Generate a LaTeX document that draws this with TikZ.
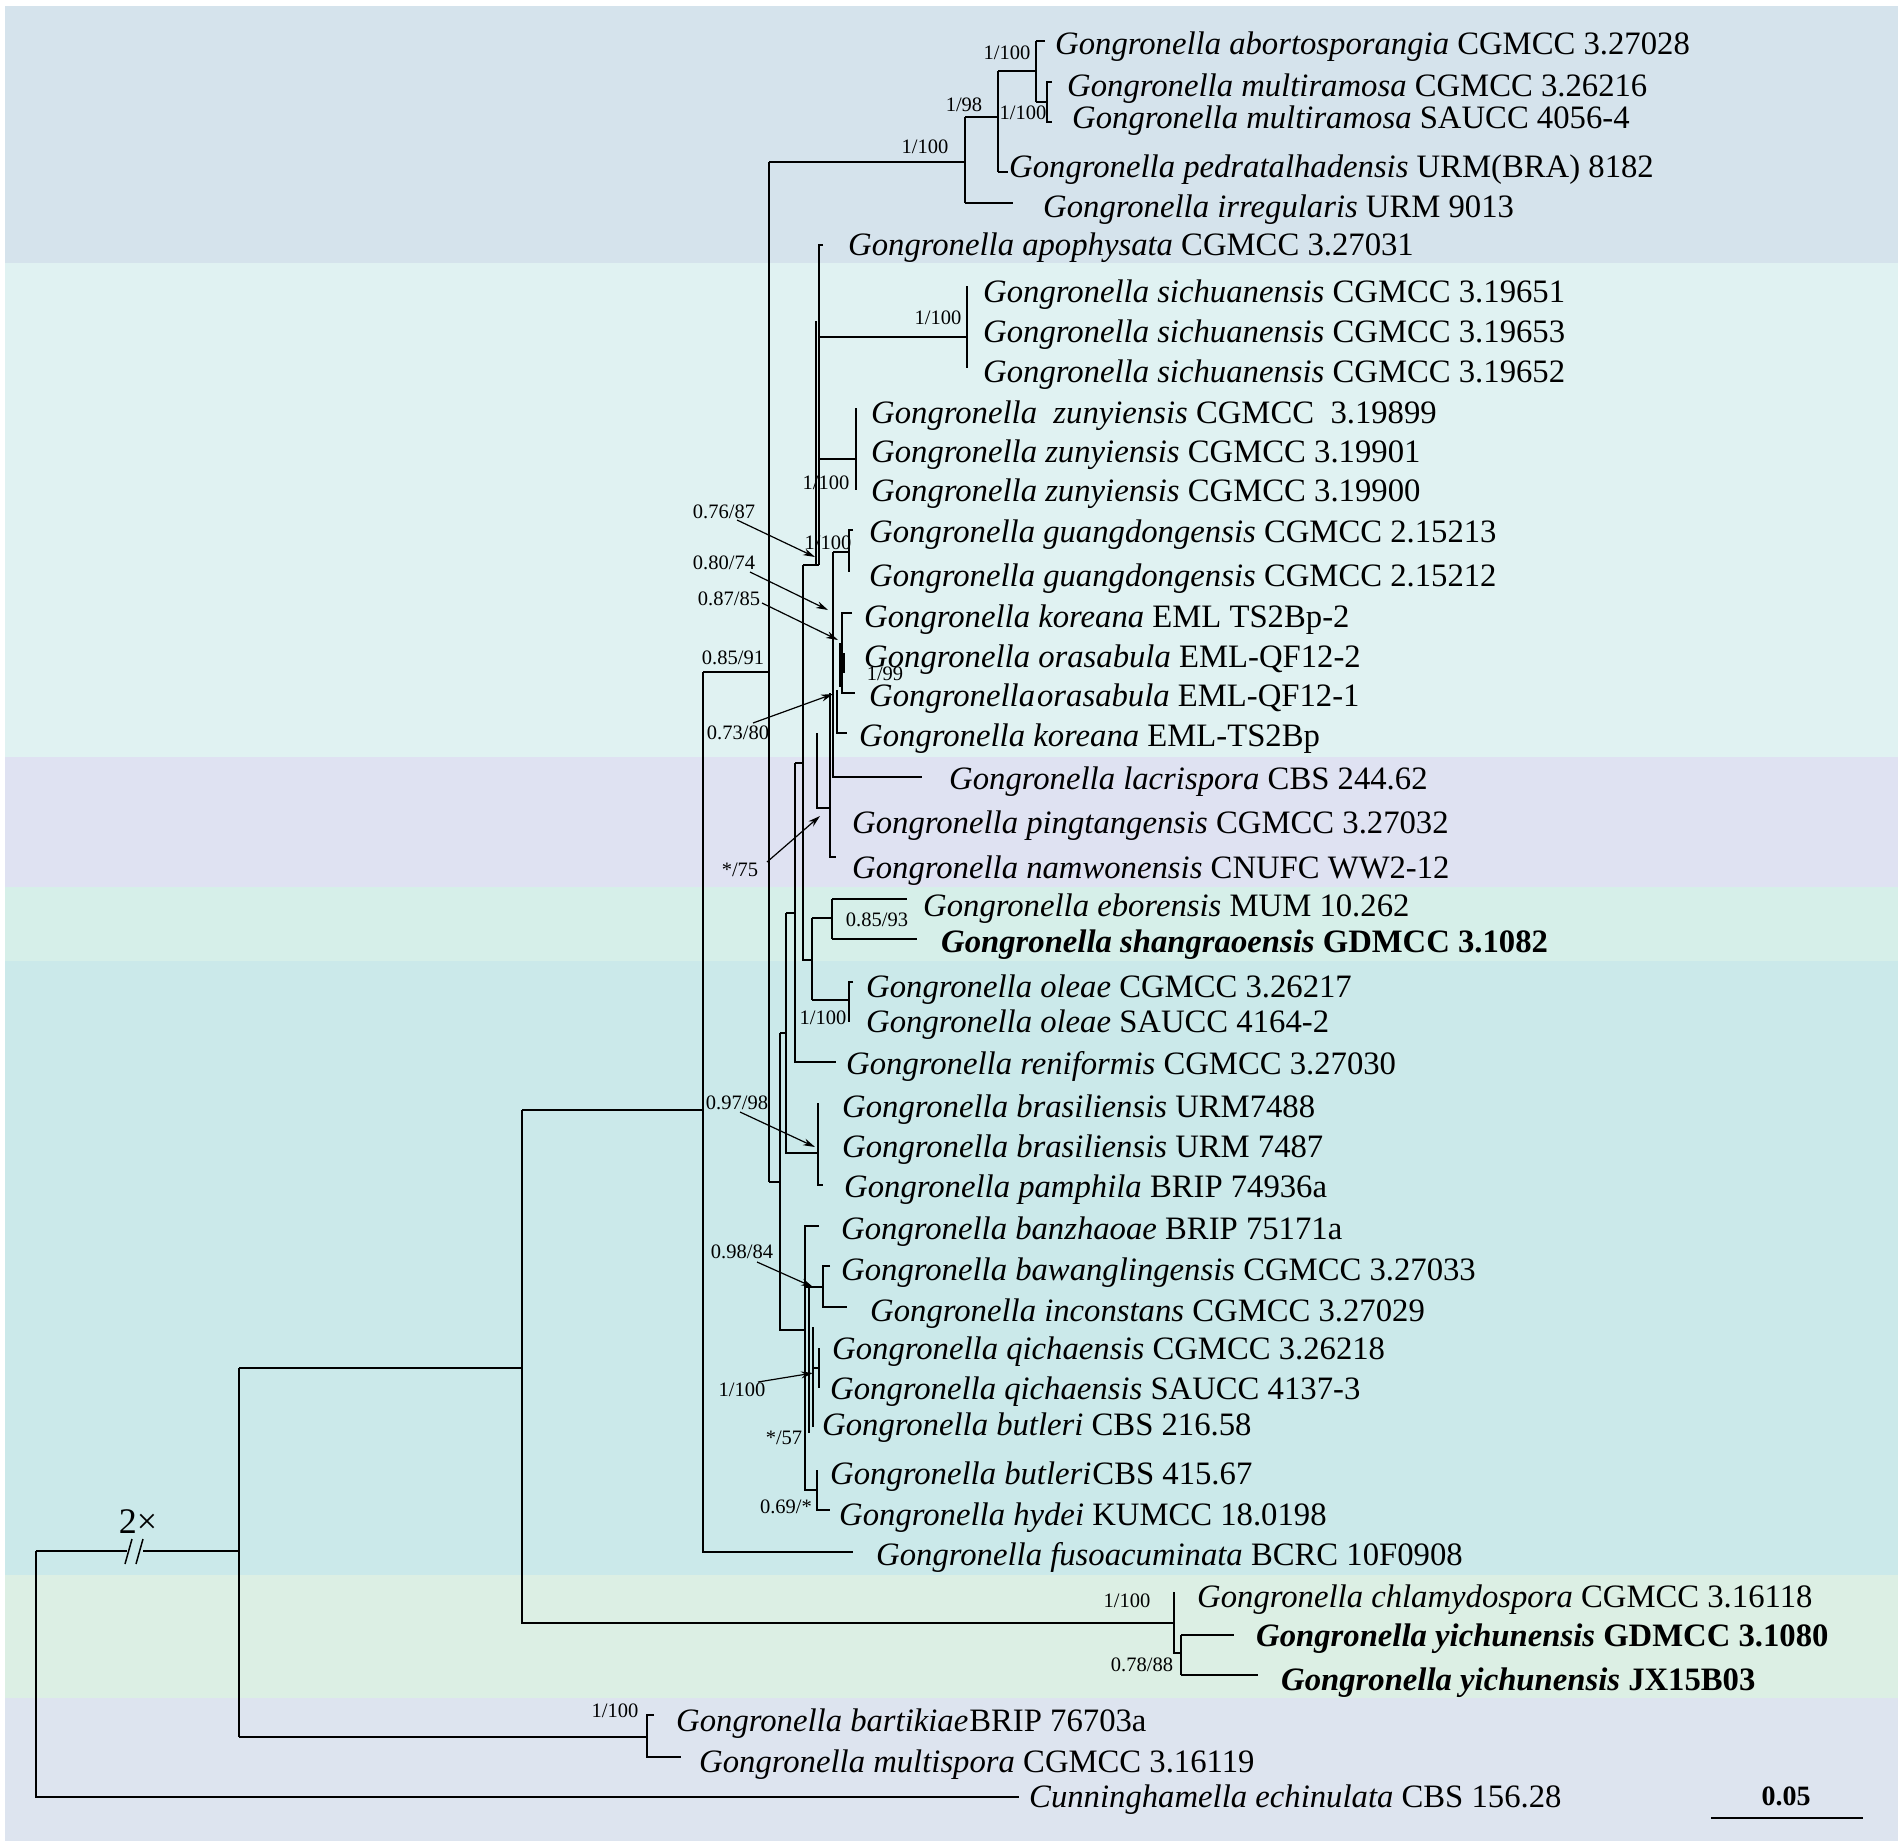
\documentclass[tikz,border=0pt]{standalone}
\usepackage{fontspec}
\setmainfont{Liberation Serif}
\usetikzlibrary{arrows.meta}
\definecolor{bgA}{HTML}{D5E3EC}
\definecolor{bgB}{HTML}{E0F2F2}
\definecolor{bgC}{HTML}{DFE2F2}
\definecolor{bgD}{HTML}{D6EFE9}
\definecolor{bgE}{HTML}{CBE9EA}
\definecolor{bgF}{HTML}{DCEFE4}
\definecolor{bgG}{HTML}{DDE4EF}
\begin{document}
\begin{tikzpicture}[x=1pt,y=-1pt,
  br/.style={line width=2.2pt,line join=miter},
  tx/.style={anchor=base west,inner sep=0pt,font=\fontsize{32.7}{38}\selectfont},
  sl/.style={anchor=center,inner sep=0pt,font=\fontsize{20.5}{24}\selectfont},
  ar/.style={line width=1.2pt,-{Stealth[length=12pt,width=7pt]}}]
\useasboundingbox (0,0) rectangle (1902,1847);
% background bands
\fill[white] (0,0) rectangle (1902,1847);
\fill[bgA] (5,6) rectangle (1898,263);
\fill[bgB] (5,263) rectangle (1898,757);
\fill[bgC] (5,757) rectangle (1898,887);
\fill[bgD] (5,887) rectangle (1898,961);
\fill[bgE] (5,961) rectangle (1898,1575);
\fill[bgF] (5,1575) rectangle (1898,1698);
\fill[bgG] (5,1698) rectangle (1898,1841);

% ---------------- tree branches ----------------
\draw[br]
 % top clade
 (769,162)--(965,162) (965,117)--(965,203) (965,117)--(998,117) (965,203)--(1013,203)
 (998,71)--(998,172) (998,71)--(1036,71) (998,172)--(1008,172)
 (1036,41)--(1036,102) (1036,41)--(1045,41) (1036,102)--(1047,102)
 (1052,82)--(1047,82)--(1047,122)--(1052,122)
 % main spine
 (769,162)--(769,1182) (703,672)--(769,672) (769,1182)--(780,1182)
 (703,672)--(703,1552)--(853,1552) (522,1110)--(703,1110)
 (522,1110)--(522,1623)--(1174,1623)
 (1174,1592)--(1174,1653)--(1181,1653) (1181,1635)--(1181,1675)
 (1181,1635)--(1234,1635) (1181,1675)--(1258,1675)
 % root
 (36,1551)--(127,1551) (143,1551)--(239,1551) (36,1551)--(36,1797)--(1019,1797)
 (239,1368)--(239,1737) (239,1368)--(522,1368) (239,1737)--(647,1737)
 (654,1715)--(647,1715)--(647,1757)--(681,1757)
 % apophysata / sichuanensis / zunyiensis
 (823,245)--(819,245)--(819,565) (816,321)--(816,565)
 (819,337)--(967,337) (967,286)--(967,368)
 (819,459)--(856,459) (856,408)--(856,490)
 % node 803
 (803,565)--(819,565) (803,565)--(803,960)--(812,960)
 (812,918)--(812,1000) (812,918)--(832,918) (812,1000)--(849,1000)
 (832,899)--(832,939) (832,899)--(907,899) (832,939)--(917,939)
 (853,982)--(849,982)--(849,1022)
 % guangdongensis / koreana cluster
 (833,552)--(833,777)--(922,777) (833,552)--(849,552)
 (853,530)--(849,530)--(849,572)
 (852,613)--(842,613)--(842,693)--(855,693)
 (840,643)--(840,687) (844,653)--(844,673)
 (837,690)--(837,733)--(847,733)
 (830,693)--(830,857)--(836,857)
 (817,733)--(817,808)--(830,808)
 % node 795 / 786 / 780
 (795,763)--(803,763) (795,763)--(795,1062)--(836,1062)
 (786,913)--(795,913) (786,913)--(786,1153)--(818,1153)
 (818,1103)--(818,1185)--(823,1185)
 (780,1033)--(786,1033) (780,1033)--(780,1330)--(805,1330)
 % lower cluster
 (819,1226)--(805,1226)--(805,1490)--(817,1490)
 (809,1287)--(809,1433)
 (805,1287)--(823,1287) (830,1266)--(823,1266)--(823,1307)--(847,1307)
 (813,1327)--(813,1427) (813,1368)--(819,1368) (819,1348)--(819,1388)
 (817,1470)--(817,1510)--(830,1510);
% break marks
\draw[line width=1.5pt] (125,1564)--(132,1539) (136,1564)--(143,1539);
\node[inner sep=0pt,font=\fontsize{36}{40}\selectfont] (twox) at (138,1522) {2×};

% ---------------- taxa ----------------
\node[tx] (t1) at (1055,54) {\textit{Gongronella abortosporangia} CGMCC 3.27028};
\node[tx] (t2) at (1067,96) {\textit{Gongronella multiramosa} CGMCC 3.26216};
\node[tx] (t3) at (1072,128) {\textit{Gongronella multiramosa} SAUCC 4056-4};
\node[tx] (t4) at (1009,177) {\textit{Gongronella pedratalhadensis} URM(BRA) 8182};
\node[tx] (t5) at (1043,217) {\textit{Gongronella irregularis} URM 9013};
\node[tx] (t6) at (848,255) {\textit{Gongronella apophysata} CGMCC 3.27031};
\node[tx] (t7) at (983,302) {\textit{Gongronella sichuanensis} CGMCC 3.19651};
\node[tx] (t8) at (983,342) {\textit{Gongronella sichuanensis} CGMCC 3.19653};
\node[tx] (t9) at (983,382) {\textit{Gongronella sichuanensis} CGMCC 3.19652};
\node[tx] (t10) at (871,423) {\textit{Gongronella\ \ zunyiensis} CGMCC\ \ 3.19899};
\node[tx] (t11) at (871,462) {\textit{Gongronella zunyiensis} CGMCC 3.19901};
\node[tx] (t12) at (871,501) {\textit{Gongronella zunyiensis} CGMCC 3.19900};
\node[tx] (t13) at (869,542) {\textit{Gongronella guangdongensis} CGMCC 2.15213};
\node[tx] (t14) at (869,586) {\textit{Gongronella guangdongensis} CGMCC 2.15212};
\node[tx] (t15) at (864,627) {\textit{Gongronella koreana} EML TS2Bp-2};
\node[tx] (t16) at (864,667) {\textit{Gongronella orasabula} EML-QF12-2};
\node[tx] (t17) at (869,706) {\textit{Gongronella\hspace{2pt}orasabula} EML-QF12-1};
\node[tx] (t18) at (859,746) {\textit{Gongronella koreana} EML-TS2Bp};
\node[tx] (t19) at (949,789) {\textit{Gongronella lacrispora} CBS 244.62};
\node[tx] (t20) at (852,833) {\textit{Gongronella pingtangensis} CGMCC 3.27032};
\node[tx] (t21) at (852,878) {\textit{Gongronella namwonensis} CNUFC WW2-12};
\node[tx] (t22) at (923,916) {\textit{Gongronella eborensis} MUM 10.262};
\node[tx] (t23) at (941,952) {\textbf{\textit{Gongronella shangraoensis} GDMCC 3.1082}};
\node[tx] (t24) at (866,997) {\textit{Gongronella oleae} CGMCC 3.26217};
\node[tx] (t25) at (866,1032) {\textit{Gongronella oleae} SAUCC 4164-2};
\node[tx] (t26) at (846,1074) {\textit{Gongronella reniformis} CGMCC 3.27030};
\node[tx] (t27) at (842,1117) {\textit{Gongronella brasiliensis} URM7488};
\node[tx] (t28) at (842,1157) {\textit{Gongronella brasiliensis} URM 7487};
\node[tx] (t29) at (844,1197) {\textit{Gongronella pamphila} BRIP 74936a};
\node[tx] (t30) at (841,1239) {\textit{Gongronella banzhaoae} BRIP 75171a};
\node[tx] (t31) at (841,1280) {\textit{Gongronella bawanglingensis} CGMCC 3.27033};
\node[tx] (t32) at (870,1321) {\textit{Gongronella inconstans} CGMCC 3.27029};
\node[tx] (t33) at (832,1359) {\textit{Gongronella qichaensis} CGMCC 3.26218};
\node[tx] (t34) at (830,1399) {\textit{Gongronella qichaensis} SAUCC 4137-3};
\node[tx] (t35) at (822,1435) {\textit{Gongronella butleri} CBS 216.58};
\node[tx] (t36) at (830,1484) {\textit{Gongronella butleri}\hspace{1pt}CBS 415.67};
\node[tx] (t37) at (839,1525) {\textit{Gongronella hydei} KUMCC 18.0198};
\node[tx] (t38) at (876,1565) {\textit{Gongronella fusoacuminata} BCRC 10F0908};
\node[tx] (t39) at (1197,1607) {\textit{Gongronella chlamydospora} CGMCC 3.16118};
\node[tx] (t40) at (1256,1646) {\textbf{\textit{Gongronella yichunensis} GDMCC 3.1080}};
\node[tx] (t41) at (1281,1690) {\textbf{\textit{Gongronella yichunensis} JX15B03}};
\node[tx] (t42) at (676,1731) {\textit{Gongronella bartikiae}\hspace{1pt}BRIP 76703a};
\node[tx] (t43) at (699,1772) {\textit{Gongronella multispora} CGMCC 3.16119};
\node[tx] (t44) at (1029,1807) {\textit{Cunninghamella echinulata} CBS 156.28};

% ---------------- support values ----------------
\node[sl] (s1) at (1007,53) {1/100};
\node[sl] (s2) at (964,105) {1/98};
\node[sl] (s3) at (1023,113) {1/100};
\node[sl] (s4) at (925,147) {1/100};
\node[sl] (s5) at (938,318) {1/100};
\node[sl] (s6) at (826,483) {1/100};
\node[sl] (s7) at (724,512) {0.76/87};
\node[sl] (s8) at (828,543) {1/100};
\node[sl] (s9) at (724,563) {0.80/74};
\node[sl] (s10) at (729,599) {0.87/85};
\node[sl] (s11) at (733,658) {0.85/91};
\node[sl] (s12) at (885,674) {1/99};
\node[sl] (s13) at (738,733) {0.73/80};
\node[sl] (s14) at (740,870) {*/75};
\node[sl] (s15) at (877,920) {0.85/93};
\node[sl] (s16) at (823,1018) {1/100};
\node[sl] (s17) at (737,1103) {0.97/98};
\node[sl] (s18) at (742,1252) {0.98/84};
\node[sl] (s19) at (742,1390) {1/100};
\node[sl] (s20) at (784,1438) {*/57};
\node[sl] (s21) at (786,1507) {0.69/*};
\node[sl] (s22) at (1127,1601) {1/100};
\node[sl] (s23) at (1142,1665) {0.78/88};
\node[sl] (s24) at (615,1711) {1/100};

% arrow targets
\coordinate (a7) at (815,557);
\coordinate (a9) at (828,610);
\coordinate (a10) at (838,640);
\coordinate (a13) at (833,694);
\coordinate (a14) at (820,816);
\coordinate (a17) at (815,1147);
\coordinate (a18) at (813,1287);
\coordinate (a19) at (813,1373);
\draw[ar] (737,520) -- (a7);
\draw[ar] (750,572) -- (a9);
\draw[ar] (762,603) -- (a10);
\draw[ar] (753,723) -- (a13);
\draw[ar] (767,862) -- (a14);
\draw[ar] (740,1112) -- (a17);
\draw[ar] (757,1262) -- (a18);
\draw[ar] (758,1382) -- (a19);

% scale bar
\node[inner sep=0pt,font=\fontsize{28}{32}\selectfont\bfseries] (sc) at (1786,1796) {0.05};
\draw[line width=2.5pt] (1711,1818) -- (1863,1818);
\end{tikzpicture}
\end{document}
